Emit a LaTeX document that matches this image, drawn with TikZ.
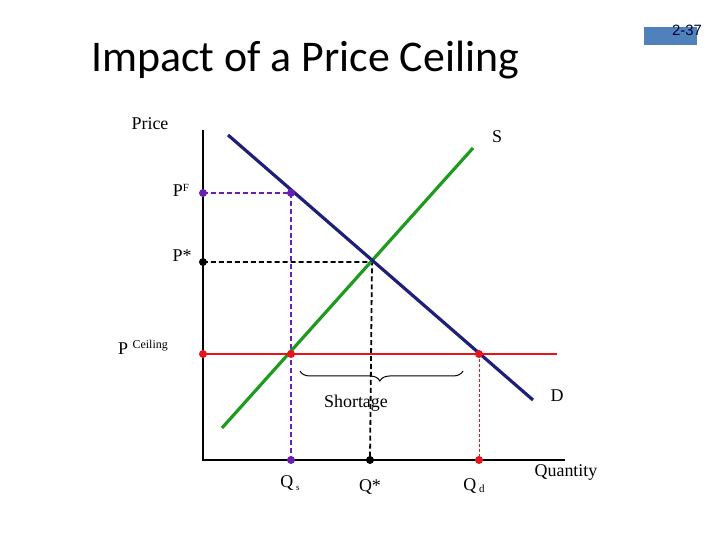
\documentclass[tikz,border=0pt]{standalone}
\usepackage{fontspec}
\setmainfont{Liberation Serif}
\newfontfamily\titlefont{Carlito}
\newfontfamily\arialfont{Liberation Sans}
\usetikzlibrary{decorations.pathreplacing}
\definecolor{demandblue}{HTML}{1F1F7A}
\definecolor{supplygreen}{HTML}{1E9A1E}
\definecolor{ceilred}{HTML}{E8141B}
\definecolor{dpurple}{HTML}{6A1FB0}
\definecolor{slideblue}{HTML}{4F81BD}
\tikzset{
  axis/.style={draw=black, line width=1.2pt},
  curve/.style={line width=3.2pt},
  guide/.style={line width=1.8pt, dash pattern=on 5pt off 3pt},
  dotp/.style={circle, inner sep=0pt, minimum size=8pt},
  lbl/.style={inner sep=0pt, font=\fontsize{18}{20}\selectfont}
}
\begin{document}
\begin{tikzpicture}[x=1bp,y=-1bp]
\useasboundingbox (0,0) rectangle (720,540);
% slide number box
\node[fill=slideblue, minimum width=53bp, minimum height=18bp, inner sep=0pt] (pg) at (670.5,36) {};
\node[inner sep=0pt, font=\arialfont\fontsize{15}{16}\selectfont, text=black!80!blue] (pgt) at (687,30) {2-37};
% title
\node[anchor=base west, inner sep=0pt, font=\titlefont\fontsize{44}{48}\selectfont] (title) at (91,72) {Impact of a Price Ceiling};
% axes
\coordinate (O) at (203,460);
\coordinate (Ytop) at (203,130);
\coordinate (Xend) at (565,460);
\draw[axis] (Ytop) -- (O) -- (Xend);
% curve end points
\coordinate (D1) at (228,135);
\coordinate (D2) at (533,400);
\coordinate (S1) at (222,428);
\coordinate (S2) at (473,148);
\coordinate (C1) at (203,354);
\coordinate (C2) at (557,354);
% key points
\coordinate (E) at (372,262);
\coordinate (PFa) at (203,193);
\coordinate (PFb) at (291,193);
\coordinate (PSa) at (203,262);
\coordinate (Qsc) at (291,354);
\coordinate (Qdc) at (479,354);
\coordinate (Qsx) at (291,460);
\coordinate (Qex) at (370,460);
\coordinate (Qdx) at (479,460);
% guides
\draw[guide, dpurple] (PFa) -- (PFb) -- (Qsx);
\draw[guide, black] (PSa) -- (E) -- (Qex);
\draw[ceilred, line width=1pt, dash pattern=on 3pt off 2pt] (Qdc) -- (Qdx);
% curves
\draw[curve, supplygreen] (S1) -- (S2);
\draw[curve, demandblue] (D1) -- (D2);
\draw[curve, ceilred, line width=2.6pt] (C1) -- (C2);
% dots
\node[dotp, fill=dpurple] at (PFa) {};
\node[dotp, fill=dpurple] at (PFb) {};
\node[dotp, fill=black] at (PSa) {};
\node[dotp, fill=ceilred] at (C1) {};
\node[dotp, fill=ceilred] at (Qsc) {};
\node[dotp, fill=ceilred] at (Qdc) {};
\node[dotp, fill=dpurple] at (Qsx) {};
\node[dotp, fill=black] at (Qex) {};
\node[dotp, fill=ceilred] at (Qdx) {};
% brace
\coordinate (B1) at (300,371);
\coordinate (B2) at (463,371);
\draw[line width=1pt, decorate, decoration={brace, mirror, amplitude=10pt, aspect=0.49}] (B1) -- (B2);
% labels
\node[lbl] (price) at (150,124) {Price};
\node[lbl] (slab) at (497,137) {S};
\node[lbl] (dlab) at (557,396) {D};
\node[lbl] (qty) at (566,472) {Quantity};
\node[lbl] (short) at (356,403) {Shortage};
\node[lbl] (pf) at (181,190) {P\raisebox{5pt}{\fontsize{11}{12}\selectfont F}};
\node[lbl] (pstar) at (182,256) {P*};
\node[lbl] (pceil) at (143,347) {P \raisebox{6pt}{\fontsize{12}{13}\selectfont Ceiling}};
\node[lbl] (qs) at (290,483) {Q\,\raisebox{-3pt}{\fontsize{9}{10}\selectfont s}};
\node[lbl] (qstar) at (370,487) {Q*};
\node[lbl] (qd) at (474,486) {Q\,\raisebox{-2pt}{\fontsize{11}{12}\selectfont d}};
\end{tikzpicture}
\end{document}
